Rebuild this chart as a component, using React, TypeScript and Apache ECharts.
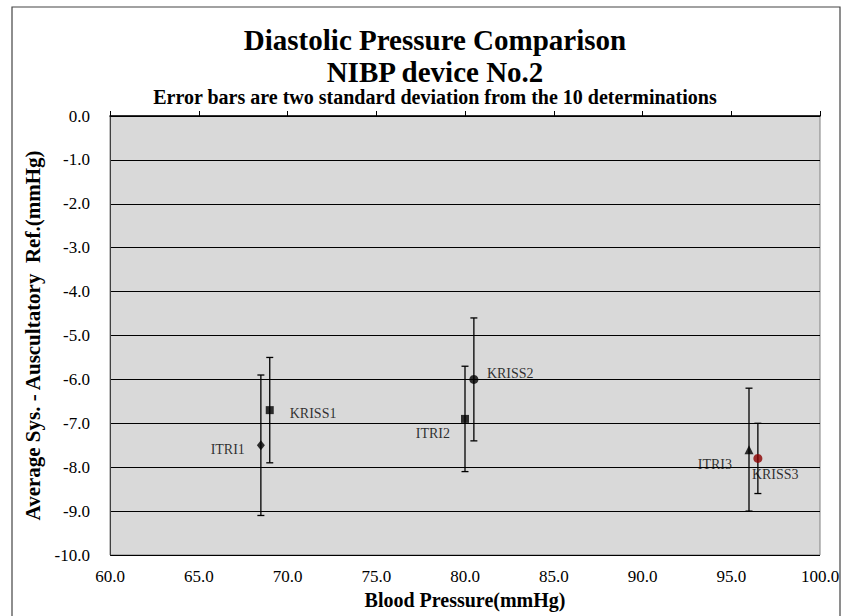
import React, { useEffect, useRef } from "react";
import * as echarts from "echarts";

// ---- data ----
const pointNames = ["ITRI1", "KRISS1", "ITRI2", "KRISS2", "ITRI3", "KRISS3"];
const bloodPressure = [68.5, 69.0, 80.0, 80.5, 96.0, 96.5];
const meanDiff = [-7.5, -6.7, -6.9, -6.0, -7.6, -7.8];
const twoSD = [1.6, 1.2, 1.2, 1.4, 1.4, 0.8];

const titleLine1 = "Diastolic Pressure Comparison";
const titleLine2 = "NIBP device No.2";
const subtitleText = "Error bars are two standard deviation from the 10 determinations";
const xName = "Blood Pressure(mmHg)";
const yName = "Average Sys. - Auscultatory  Ref.(mmHg)";

// ---- styles ----
const markerSymbols = ["diamond", "rect", "rect", "circle", "triangle", "circle"];
const markerSizes: any[] = [[8, 10], 8, 8, 9, [9, 9], 9];
const markerColors = ["#000", "#000", "#000", "#000", "#000", "#8B0000"];
const labelAlign = ["right", "left", "right", "left", "right", "left"];
const labelOffsets = [[-16, 4], [20, 3], [-15, 15], [13, -6], [-17, 15], [-6, 16]];

const SERIF = "Liberation Serif, Times New Roman, serif";

export default function App() {
  const ref = useRef<HTMLDivElement>(null);
  useEffect(() => {
    if (!ref.current) return;
    const chart = echarts.init(ref.current, null, { renderer: "svg" });
    const errData = bloodPressure.map((x, i) => [x, meanDiff[i] - twoSD[i], meanDiff[i] + twoSD[i]]);
    const scatterData = bloodPressure.map((x, i) => ({
      name: pointNames[i],
      value: [x, meanDiff[i]],
      symbol: markerSymbols[i],
      symbolSize: markerSizes[i],
      itemStyle: { color: markerColors[i] },
      label: {
        show: true,
        formatter: pointNames[i],
        position: "inside",
        align: labelAlign[i],
        verticalAlign: "middle",
        offset: labelOffsets[i],
        color: "#000",
        textBorderWidth: 0,
        fontFamily: SERIF,
        fontSize: 14,
      },
    }));
    chart.setOption({
      animation: false,
      graphic: [
        {
          type: "rect",
          shape: { x: 12, y: 7, width: 828, height: 640 },
          style: { fill: "none", stroke: "#444", lineWidth: 1.2 },
          silent: true,
        },
        {
          type: "text",
          x: 435,
          y: 40,
          style: {
            text: titleLine1,
            fontFamily: SERIF,
            fontWeight: "bold",
            fontSize: 29,
            fill: "#000",
            textAlign: "center",
            textVerticalAlign: "middle",
          },
        },
        {
          type: "text",
          x: 435,
          y: 72,
          style: {
            text: titleLine2,
            fontFamily: SERIF,
            fontWeight: "bold",
            fontSize: 29,
            fill: "#000",
            textAlign: "center",
            textVerticalAlign: "middle",
          },
        },
        {
          type: "text",
          x: 435,
          y: 97,
          style: {
            text: subtitleText,
            fontFamily: SERIF,
            fontWeight: "bold",
            fontSize: 20,
            fill: "#000",
            textAlign: "center",
            textVerticalAlign: "middle",
          },
        },
      ],
      grid: {
        left: 110,
        right: 24,
        top: 116,
        bottom: 61,
        show: true,
        backgroundColor: "#D9D9D9",
        borderColor: "#808080",
        borderWidth: 1,
      },
      xAxis: {
        type: "value",
        min: 60,
        max: 100,
        interval: 5,
        name: xName,
        nameLocation: "middle",
        nameGap: 32,
        nameTextStyle: { fontFamily: SERIF, fontSize: 20, fontWeight: "bold", color: "#000" },
        axisLine: { show: true, lineStyle: { color: "#000", width: 1.5 } },
        axisTick: { show: true, inside: true, length: 5, lineStyle: { color: "#000" } },
        axisLabel: {
          formatter: (v: number) => v.toFixed(1),
          fontFamily: SERIF,
          fontSize: 17,
          color: "#000",
          margin: 13,
        },
        splitLine: { show: false },
      },
      yAxis: {
        type: "value",
        min: -10,
        max: 0,
        interval: 1,
        name: yName,
        nameLocation: "middle",
        nameGap: 65,
        nameTextStyle: { fontFamily: SERIF, fontSize: 21, fontWeight: "bold", color: "#000" },
        axisLine: { show: true, lineStyle: { color: "#404040", width: 1 } },
        axisTick: { show: false },
        axisLabel: {
          formatter: (v: number) => v.toFixed(1),
          fontFamily: SERIF,
          fontSize: 17,
          color: "#000",
          margin: 20,
        },
        splitLine: { show: true, lineStyle: { color: "#000", width: 1 } },
      },
      series: [
        {
          type: "custom",
          data: errData,
          encode: { x: 0, y: [1, 2] },
          z: 2,
          renderItem: (params: any, api: any) => {
            const x = api.value(0);
            const lo = api.coord([x, api.value(1)]);
            const hi = api.coord([x, api.value(2)]);
            const w = 3.5;
            const st = { stroke: "#000", lineWidth: 1.3 };
            return {
              type: "group",
              children: [
                { type: "line", shape: { x1: lo[0], y1: lo[1], x2: hi[0], y2: hi[1] }, style: st },
                { type: "line", shape: { x1: lo[0] - w, y1: lo[1], x2: lo[0] + w, y2: lo[1] }, style: st },
                { type: "line", shape: { x1: hi[0] - w, y1: hi[1], x2: hi[0] + w, y2: hi[1] }, style: st },
              ],
            };
          },
        },
        {
          type: "scatter",
          data: scatterData,
          z: 3,
        },
      ],
    });
    return () => chart.dispose();
  }, []);
  return (
    <div
      ref={ref}
      style={{ position: "fixed", left: 0, top: 0, width: 844, height: 616, background: "#fff" }}
    />
  );
}
